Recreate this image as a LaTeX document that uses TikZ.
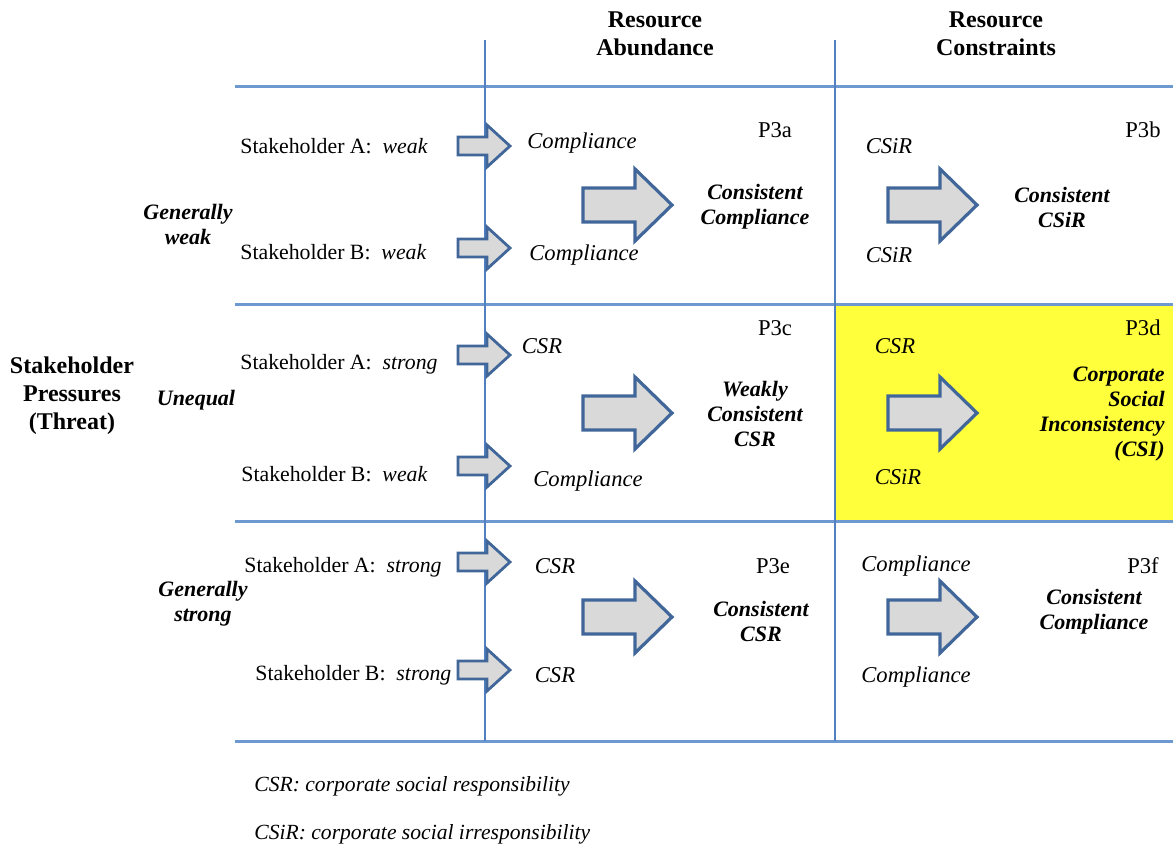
\documentclass[tikz,border=0pt]{standalone}
\usepackage{fontspec}
\setmainfont{Liberation Serif}
\definecolor{gridblue}{RGB}{110,152,208}
\definecolor{vblue}{RGB}{80,128,192}
\definecolor{arrblue}{RGB}{65,103,154}
\definecolor{arrfill}{RGB}{217,217,217}
\definecolor{hiyellow}{RGB}{255,255,60}
\tikzset{
  hline/.style={draw=gridblue, line width=1.5pt},
  vline/.style={draw=vblue, line width=0.75pt},
  blockarr/.style={draw=arrblue, fill=arrfill, line width=1.6pt, line join=miter},
  bigarr/.pic={\path[blockarr] (0,-17)--(52,-17)--(52,-36)--(89,0)--(52,36)--(52,17)--(0,17)--cycle;},
  smallarr/.pic={\path[blockarr, line width=1.4pt] (0,-9)--(29,-9)--(29,-21)--(52,0)--(29,21)--(29,9)--(0,9)--cycle;},
  txt/.style={inner sep=0pt, font=\fontsize{11.3}{13}\selectfont},
  itx/.style={txt, font=\fontsize{11.3}{13}\selectfont\itshape},
  res/.style={inner sep=0pt, align=center, font=\fontsize{11}{12.5}\selectfont\bfseries\itshape},
  head/.style={inner sep=0pt, align=center, font=\fontsize{12}{14}\selectfont\bfseries},
  plab/.style={txt},
  shl/.style={txt, anchor=base west, font=\fontsize{10.9}{13}\selectfont},
  foot/.style={txt, anchor=west, font=\fontsize{10.8}{12}\selectfont\itshape},
}
\begin{document}
\begin{tikzpicture}[x=0.5pt,y=-0.5pt]
\useasboundingbox (0,0) rectangle (1173,848);
% yellow cell
\fill[hiyellow] (835,304) rectangle (1173,521);
% grid
\foreach \yy in {86,304,521,741} \draw[hline] (235,\yy) -- (1173,\yy);
\draw[vline] (485,40) -- (485,741);
\draw[vline] (835,40) -- (835,741);

% headers
\node[head] (hA) at (655,34) {Resource\\Abundance};
\node[head] (hC) at (996,34) {Resource\\Constraints};
\node[head] (sp) at (72,396) {Stakeholder\\Pressures\\(Threat)};

% row labels
\node[res] (gw) at (188,224) {Generally\\weak};
\node[res] (uq) at (196,400) {Unequal};
\node[res] (gs) at (203,604) {Generally\\strong};

% stakeholder labels
\node[shl] (s1a) at (240,153) {Stakeholder A:\ \ \textit{weak}};
\node[shl] (s1b) at (240,259) {Stakeholder B:\ \ \textit{weak}};
\node[shl] (s2a) at (240,369) {Stakeholder A:\ \ \textit{strong}};
\node[shl] (s2b) at (241,481) {Stakeholder B:\ \ \textit{weak}};
\node[shl] (s3a) at (244,572) {Stakeholder A:\ \ \textit{strong}};
\node[shl] (s3b) at (255,680) {Stakeholder B:\ \ \textit{strong}};

% small arrows
\foreach \yy in {146,248,355,466,562,670} \pic at (458,\yy) {smallarr};

% big arrows
\foreach \yy in {205,413,617} {\pic at (583,\yy) {bigarr}; \pic at (888,\yy) {bigarr};}

% left column inputs
\node[itx] (c1a) at (582,143) {Compliance};
\node[itx] (c1b) at (584,255) {Compliance};
\node[itx] (c2a) at (542,346) {CSR};
\node[itx] (c2b) at (588,481) {Compliance};
\node[itx] (c3a) at (555,566) {CSR};
\node[itx] (c3b) at (555,675) {CSR};
% right column inputs
\node[itx] (d1a) at (889,146) {CSiR};
\node[itx] (d1b) at (889,255) {CSiR};
\node[itx] (d2a) at (895,346) {CSR};
\node[itx] (d2b) at (898,477) {CSiR};
\node[itx] (d3a) at (916,566) {Compliance};
\node[itx] (d3b) at (916,677) {Compliance};

% proposition labels
\node[plab] (p3a) at (775,130) {P3a};
\node[plab] (p3b) at (1143,130) {P3b};
\node[plab] (p3c) at (775,328) {P3c};
\node[plab] (p3d) at (1143,328) {P3d};
\node[plab] (p3e) at (773,566) {P3e};
\node[plab] (p3f) at (1143,566) {P3f};

% results
\node[res] (r1a) at (755,207) {Consistent\\Compliance};
\node[res] (r1b) at (1062,207) {Consistent\\CSiR};
\node[res] (r2a) at (755,414) {Weakly\\Consistent\\CSR};
\node[res, align=right, anchor=east] (r2b) at (1165,414) {Corporate\\Social\\Inconsistency\\(CSI)};
\node[res] (r3a) at (761,621) {Consistent\\CSR};
\node[res] (r3b) at (1094,612) {Consistent\\Compliance};

% footnotes
\node[foot] (f1) at (254,786) {CSR: corporate social responsibility};
\node[foot] (f2) at (254,834) {CSiR: corporate social irresponsibility};
\end{tikzpicture}
\end{document}
